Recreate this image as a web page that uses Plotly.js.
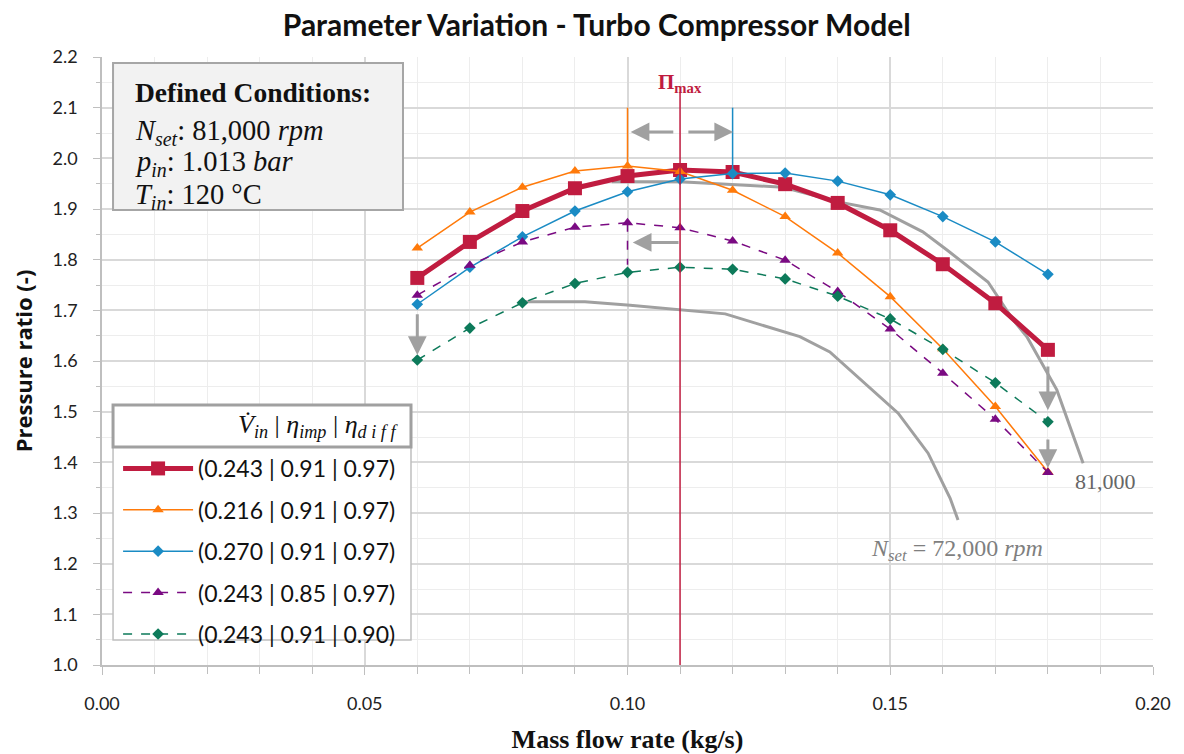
<!DOCTYPE html>
<html>
<head>
<meta charset="utf-8">
<script src="https://cdn.plot.ly/plotly-3.0.1.min.js"></script>
<style>html,body{margin:0;padding:0;background:#fff;}#chart{width:1184px;height:754px;}</style>
</head>
<body>
<div id="chart"></div>
<script>
// ---- data ----
const massFlow = [0.06,0.07,0.08,0.09,0.10,0.11,0.12,0.13,0.14,0.15,0.16,0.17,0.18];
const seriesNames = [
  '(0.243 | 0.91 | 0.97)',
  '(0.216 | 0.91 | 0.97)',
  '(0.270 | 0.91 | 0.97)',
  '(0.243 | 0.85 | 0.97)',
  '(0.243 | 0.91 | 0.90)'
];
const prBase   = [1.764,1.835,1.896,1.941,1.965,1.977,1.973,1.949,1.912,1.858,1.791,1.714,1.622];
const prV216   = [1.823,1.894,1.943,1.975,1.985,1.974,1.937,1.885,1.813,1.727,1.624,1.510,1.381];
const prV270   = [1.712,1.785,1.845,1.896,1.934,1.959,1.970,1.971,1.955,1.928,1.885,1.835,1.771];
const prImp085 = [1.730,1.789,1.835,1.864,1.873,1.863,1.837,1.799,1.737,1.663,1.576,1.485,1.380];
const prDif090 = [1.602,1.665,1.715,1.753,1.775,1.785,1.781,1.762,1.728,1.683,1.623,1.557,1.480];

const n81x = [0.097,0.110,0.1296,0.1401,0.148,0.1562,0.1608,0.1686,0.1734,0.176,0.1817,0.1867];
const n81y = [1.954,1.954,1.943,1.914,1.898,1.855,1.819,1.756,1.681,1.648,1.543,1.398];
const n72x = [0.0805,0.0919,0.1005,0.1186,0.1328,0.1385,0.1515,0.1572,0.1614,0.1629];
const n72y = [1.717,1.717,1.710,1.693,1.648,1.618,1.497,1.418,1.329,1.286];

const piMaxX = [0.11,0.11],  piMaxY = [1.0,2.13];
const v216X = [0.10,0.10],   v216Y = [1.985,2.10];
const v270X = [0.12,0.12],   v270Y = [1.970,2.10];
const impX  = [0.10,0.10],   impY  = [1.873,1.79];

// arrows: [tailX, tailY, tipX, tipY]
const arrows = [
  [0.1090,2.052,0.1006,2.052],
  [0.1113,2.052,0.1201,2.052],
  [0.1100,1.834,0.1010,1.834],
  [0.06,1.695,0.06,1.612],
  [0.18,1.592,0.18,1.503],
  [0.18,1.448,0.18,1.389]
];

const xTicks = [0,0.05,0.10,0.15,0.20];
const xTickText = ['0.00','0.05','0.10','0.15','0.20'];
const yTicks = [1.0,1.1,1.2,1.3,1.4,1.5,1.6,1.7,1.8,1.9,2.0,2.1,2.2];
const yTickText = ['1.0','1.1','1.2','1.3','1.4','1.5','1.6','1.7','1.8','1.9','2.0','2.1','2.2'];

const RED='#c01c40', ORANGE='#ff7a0a', BLUE='#1a8bc4', PURPLE='#7a0a82', GREEN='#0d7a5a', GRAY='#a0a0a0';

const traces = [];
traces.push({x:n72x,y:n72y,mode:'lines',line:{color:GRAY,width:3},showlegend:false,hoverinfo:'skip'});
traces.push({x:n81x,y:n81y,mode:'lines',line:{color:GRAY,width:3},showlegend:false,hoverinfo:'skip'});
traces.push({x:impX,y:impY,mode:'lines',line:{color:PURPLE,width:1.5,dash:'dash'},showlegend:false});
const main = [
  {y:prBase,  c:RED,    w:5,   d:'solid', s:'square',       ms:14},
  {y:prV216,  c:ORANGE, w:1.5, d:'solid', s:'triangle-up',  ms:10},
  {y:prV270,  c:BLUE,   w:1.5, d:'solid', s:'diamond',      ms:9},
  {y:prImp085,c:PURPLE, w:1.5, d:'dash',  s:'triangle-up',  ms:10},
  {y:prDif090,c:GREEN,  w:1.5, d:'dash',  s:'diamond',      ms:9}
];
main.forEach((m,i)=>{
  traces.push({x:massFlow,y:m.y,name:seriesNames[i],legendgroup:'g'+i,legendrank:i+1,
    mode:'lines+markers',line:{color:m.c,width:m.w,dash:m.d},
    marker:{symbol:m.s,size:m.ms,color:m.c}});
});
traces.push({x:v216X,y:v216Y,mode:'lines',line:{color:ORANGE,width:1.5},showlegend:false});
traces.push({x:v270X,y:v270Y,mode:'lines',line:{color:BLUE,width:1.5},showlegend:false});
traces.push({x:piMaxX,y:piMaxY,mode:'lines',line:{color:RED,width:1.5},showlegend:false});

const annotations = [];
arrows.forEach(a=>{
  annotations.push({x:a[2],y:a[3],ax:a[0],ay:a[1],xref:'x',yref:'y',axref:'x',ayref:'y',
    text:'',showarrow:true,arrowhead:2,arrowsize:1.25,arrowwidth:3,arrowcolor:GRAY});
});
annotations.push({x:0.11,y:2.148,xref:'x',yref:'y',showarrow:false,
  text:'<b>Π<sub>max</sub></b>',font:{family:'Liberation Serif',size:21,color:RED}});
annotations.push({x:0.1627,y:1.227,xref:'x',yref:'y',showarrow:false,
  text:'<i>N</i><sub><i>set</i></sub> = 72,000 <i>rpm</i>',font:{family:'Liberation Serif',size:24,color:'#7f7f7f'}});
annotations.push({x:0.191,y:1.363,xref:'x',yref:'y',showarrow:false,
  text:'81,000',font:{family:'Liberation Serif',size:22,color:'#666666'}});
// defined conditions
const condLines = [
  ['<b>Defined Conditions:</b>', 0.9424, 27.5],
  ['<i>N</i><sub><i>set</i></sub>: 81,000 <i>rpm</i>', 0.876, 28.5],
  ['<i>p</i><sub><i>in</i></sub>: 1.013 <i>bar</i>', 0.825, 28.5],
  ['<i>T</i><sub><i>in</i></sub>: 120 °C', 0.770, 28.5]
];
condLines.forEach(l=>{
  annotations.push({x:0.0295,y:l[1],xref:'paper',yref:'paper',xanchor:'left',yanchor:'middle',showarrow:false,
    text:l[0],font:{family:'Liberation Serif',size:l[2],color:'#111'}});
});
annotations.push({x:0.2835,y:0.3935,xref:'paper',yref:'paper',xanchor:'right',yanchor:'middle',showarrow:false,
  text:'<i>V̇</i><sub><i>in</i></sub> | <i>η</i><sub><i>imp</i></sub> | <i>η</i><sub><i>d i f f</i></sub>',
  font:{family:'Liberation Serif',size:26,color:'#111'}});

const shapes = [
  {type:'rect',xref:'paper',yref:'paper',x0:0.0105,x1:0.2864,y0:0.7484,y1:0.9901,
   fillcolor:'#f2f2f2',line:{color:'#a6a6a6',width:2},layer:'above'},
  {type:'rect',xref:'paper',yref:'paper',x0:0.0105,x1:0.294,y0:0.0411,y1:0.4276,
   fillcolor:'#ffffff',line:{color:'#bfbfbf',width:1.5},layer:'above'},
  {type:'rect',xref:'paper',yref:'paper',x0:0.0105,x1:0.294,y0:0.3586,y1:0.4276,
   fillcolor:'#ffffff',line:{color:'#a0a0a0',width:3},layer:'above'}
];

const layout = {
  width:1184,height:754,
  margin:{l:102,r:31,t:57,b:89},
  paper_bgcolor:'#fff',plot_bgcolor:'#fff',
  title:{text:'<b>Parameter Variation - Turbo Compressor Model</b>',x:0.504,xanchor:'center',y:0.966,yanchor:'middle',
    font:{family:'Lato',size:30,color:'#111'}},
  xaxis:{range:[0,0.2],tickvals:xTicks,ticktext:xTickText,showgrid:true,gridcolor:'#d9d9d9',gridwidth:1.5,
    zeroline:false,showline:true,linecolor:'#bfbfbf',linewidth:1.5,ticks:'outside',ticklen:8,tickcolor:'#bfbfbf',
    ticklabelstandoff:14,
    tickfont:{family:'Lato',size:18,color:'#222'},
    minor:{dtick:0.01,showgrid:true,gridcolor:'#ededed',gridwidth:1,ticks:'outside',ticklen:7,tickcolor:'#bfbfbf'},
    title:{text:'<b>Mass flow rate (kg/s)</b>',standoff:18,font:{family:'Liberation Serif',size:26,color:'#111'}}},
  yaxis:{range:[1.0,2.2],tickvals:yTicks,ticktext:yTickText,showgrid:true,gridcolor:'#d9d9d9',gridwidth:1.5,
    zeroline:false,showline:true,linecolor:'#bfbfbf',linewidth:1.5,ticks:'outside',ticklen:7,tickcolor:'#bfbfbf',
    ticklabelstandoff:12,
    tickfont:{family:'Lato',size:18,color:'#222'},
    minor:{dtick:0.05,showgrid:true,gridcolor:'#ededed',gridwidth:1,ticks:'outside',ticklen:4,tickcolor:'#bfbfbf'},
    title:{text:'<b>Pressure ratio (-)</b>',standoff:14,font:{family:'Open Sans',size:22,color:'#111'}}},
  showlegend:true,
  legend:{x:0.0153,y:0.3586,xanchor:'left',yanchor:'top',bgcolor:'rgba(0,0,0,0)',borderwidth:0,
    traceorder:'grouped',tracegroupgap:8.5,itemwidth:70,font:{family:'Lato',size:23,color:'#111'}},
  annotations:annotations,shapes:shapes
};
Plotly.newPlot('chart',traces,layout,{displayModeBar:false,responsive:false});
</script>
</body>
</html>
